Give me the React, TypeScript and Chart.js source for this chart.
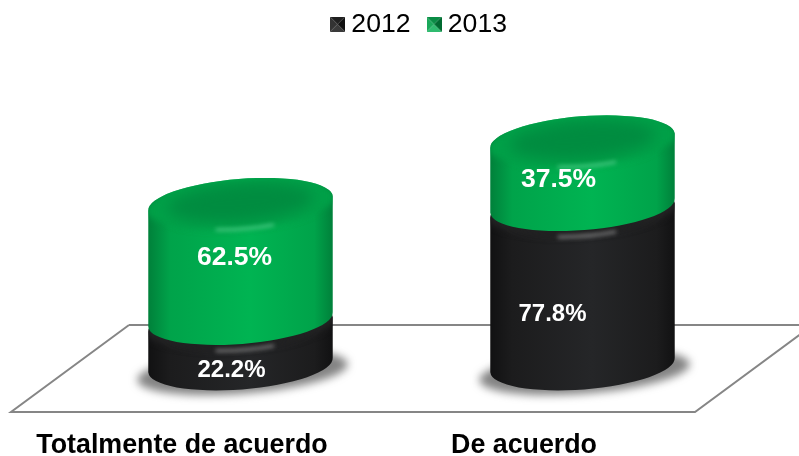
import React, { useEffect, useRef } from "react";
import { Chart, registerables } from "chart.js";

Chart.register(...registerables);

const categories = ["Totalmente de acuerdo", "De acuerdo"];
const seriesNames = ["2012", "2013"];
const values2012 = [22.2, 77.8];
const values2013 = [62.5, 37.5];

const FONT = "'Liberation Sans', Arial, sans-serif";
const Y_MAX = 172;
const DEPTH_X = 58.5;
const DEPTH_Y = 47;
const TILT = (-4.5 * Math.PI) / 180;
const B = 24.5;

type Tone = { edge: string; mid: string; center: string; face: string; rim: string; glow: string };
const BLACK: Tone = { edge: "#111112", mid: "#1c1c1d", center: "#252628", face: "#1c1c1d", rim: "#232324", glow: "rgba(205,205,205,0.6)" };
const GREEN: Tone = { edge: "#00803a", mid: "#00a34a", center: "#00b452", face: "#008c40", rim: "#00a048", glow: "rgba(110,220,160,0.75)" };

// dx, dy nudges of the value labels relative to the middle of each segment
const labelNudge = [
  [[-9, 28], [-30, 29]],
  [[-6, 2], [-24, 13]],
];
const labelSize = [24, 26.5];

function bevelSwatch(top: string, right: string, bottom: string, left: string) {
  const s = 15;
  const c = document.createElement("canvas");
  c.width = s;
  c.height = s;
  const g = c.getContext("2d")!;
  const tri = (pts: number[][], color: string) => {
    g.fillStyle = color;
    g.beginPath();
    g.moveTo(pts[0][0], pts[0][1]);
    g.lineTo(pts[1][0], pts[1][1]);
    g.lineTo(pts[2][0], pts[2][1]);
    g.closePath();
    g.fill();
  };
  const m = s / 2;
  tri([[0, 0], [s, 0], [m, m]], top);
  tri([[s, 0], [s, s], [m, m]], right);
  tri([[s, s], [0, s], [m, m]], bottom);
  tri([[0, s], [0, 0], [m, m]], left);
  return c;
}

function drawCylinder(ctx: CanvasRenderingContext2D, cx: number, yTop: number, yBase: number, a: number, tone: Tone, capShift: number) {
  const topY = yTop + capShift;
  const path = () => {
    ctx.beginPath();
    ctx.ellipse(cx, topY, a, B, TILT, Math.PI, 2 * Math.PI);
    ctx.ellipse(cx, yBase, a, B, TILT, 0, Math.PI);
    ctx.closePath();
  };
  ctx.save();
  const g = ctx.createLinearGradient(cx - a, 0, cx + a, 0);
  g.addColorStop(0, tone.edge);
  g.addColorStop(0.12, tone.mid);
  g.addColorStop(0.55, tone.center);
  g.addColorStop(0.9, tone.mid);
  g.addColorStop(1, tone.edge);
  ctx.fillStyle = g;
  path();
  ctx.fill();
  path();
  ctx.clip();

  // top face with a soft rim
  ctx.filter = "blur(3px)";
  ctx.fillStyle = tone.rim;
  ctx.beginPath();
  ctx.ellipse(cx, topY, a + 2, B, TILT, 0, 2 * Math.PI);
  ctx.fill();
  ctx.filter = "blur(7px)";
  ctx.fillStyle = tone.face;
  ctx.beginPath();
  ctx.ellipse(cx, topY - 1, a - 20, B - 6, TILT, 0, 2 * Math.PI);
  ctx.fill();

  // highlight along the front of the rim
  ctx.filter = "blur(2px)";
  ctx.strokeStyle = tone.glow;
  ctx.lineWidth = 2.5;
  ctx.beginPath();
  ctx.ellipse(cx, topY + 1, a - 6, B, TILT, Math.PI * 0.38, Math.PI * 0.6);
  ctx.stroke();
  ctx.restore();
}

const cylinderPlugin = {
  id: "cylinders",
  afterLayout(chart: any) {
    if (chart.legend) {
      chart.legend.left += 69;
      chart.legend.right += 69;
      chart.legend.top -= 12;
    }
  },
  beforeDatasetsDraw(chart: any) {
    const { ctx, chartArea } = chart;
    const { left, right, bottom } = chartArea;
    const yScale = chart.scales.y;
    ctx.save();

    // floor
    const backY = bottom - 87;
    ctx.strokeStyle = "#868686";
    ctx.lineWidth = 2;
    ctx.lineJoin = "miter";
    ctx.beginPath();
    ctx.moveTo(left + 118, backY);
    ctx.lineTo(left, bottom);
    ctx.lineTo(right, bottom);
    ctx.lineTo(right + 118, backY);
    ctx.lineTo(left + 118, backY);
    ctx.stroke();

    const m0 = chart.getDatasetMeta(0).data;
    const m1 = chart.getDatasetMeta(1).data;

    // shadows
    m0.forEach((bar: any) => {
      const cx = bar.x + DEPTH_X;
      const y = yScale.getPixelForValue(0) - DEPTH_Y;
      ctx.save();
      ctx.filter = "blur(4px)";
      ctx.fillStyle = "rgba(90,90,90,0.75)";
      ctx.beginPath();
      ctx.ellipse(cx + 2, y + 7, bar.width / 2 + 13, B - 3, TILT, 0, 2 * Math.PI);
      ctx.fill();
      ctx.restore();
    });

    // bodies: 2012 below, 2013 on top of it
    m0.forEach((bar: any) => {
      drawCylinder(ctx, bar.x + DEPTH_X, bar.y - DEPTH_Y, bar.base - DEPTH_Y, bar.width / 2, BLACK, 5);
    });
    m1.forEach((bar: any) => {
      drawCylinder(ctx, bar.x + DEPTH_X, bar.y - DEPTH_Y, bar.base - DEPTH_Y, bar.width / 2, GREEN, 12);
    });
    ctx.restore();
  },
  beforeDatasetDraw() {
    return false;
  },
  afterDatasetsDraw(chart: any) {
    const { ctx } = chart;
    ctx.save();
    ctx.fillStyle = "#ffffff";
    ctx.textAlign = "center";
    ctx.textBaseline = "middle";
    [0, 1].forEach((d) => {
      chart.getDatasetMeta(d).data.forEach((bar: any, i: number) => {
        const raw = chart.data.datasets[d].data[i] as number;
        const [dx, dy] = labelNudge[d][i];
        ctx.font = `bold ${labelSize[d]}px ${FONT}`;
        ctx.fillText(`${raw.toFixed(1)}%`, bar.x + DEPTH_X + dx, (bar.y + bar.base) / 2 - DEPTH_Y + dy);
      });
    });
    ctx.restore();
  },
};

export default function App() {
  const ref = useRef<HTMLCanvasElement | null>(null);
  useEffect(() => {
    document.body.style.margin = "0";
    const swatches = [
      bevelSwatch("#1f1f1f", "#111111", "#3a3a3a", "#333333"),
      bevelSwatch("#0a8c45", "#006a30", "#2fbb6f", "#1aa85a"),
    ];
    const chart = new Chart(ref.current!, {
      type: "bar",
      data: {
        labels: categories,
        datasets: [
          { label: seriesNames[0], data: values2012, backgroundColor: "#1c1c1d", pointStyle: swatches[0] as any },
          { label: seriesNames[1], data: values2013, backgroundColor: "#00b050", pointStyle: swatches[1] as any },
        ],
      },
      options: {
        responsive: false,
        animation: false,
        layout: { padding: { left: 11, right: 104 } },
        datasets: { bar: { categoryPercentage: 1, barPercentage: 0.541 } },
        plugins: {
          tooltip: { enabled: false },
          legend: {
            position: "top",
            labels: {
              usePointStyle: true,
              boxWidth: 1,
              padding: 23,
              color: "#000000",
              font: { family: FONT, size: 26.6 },
            },
          },
        },
        scales: {
          x: {
            stacked: true,
            grid: { display: false },
            border: { display: false },
            afterFit: (s: any) => {
              s.height = 44;
            },
            ticks: {
              color: "#000000",
              maxRotation: 0,
              autoSkip: false,
              padding: 10,
              font: { family: FONT, size: 26.8, weight: "bold" },
            },
          },
          y: { stacked: true, display: false, min: 0, max: Y_MAX },
        },
      },
      plugins: [cylinderPlugin],
    } as any);
    return () => chart.destroy();
  }, []);
  return (
    <div style={{ position: "absolute", left: 0, top: 0, width: 799, height: 456 }}>
      <canvas ref={ref} width={799} height={456} style={{ display: "block" }} />
    </div>
  );
}
